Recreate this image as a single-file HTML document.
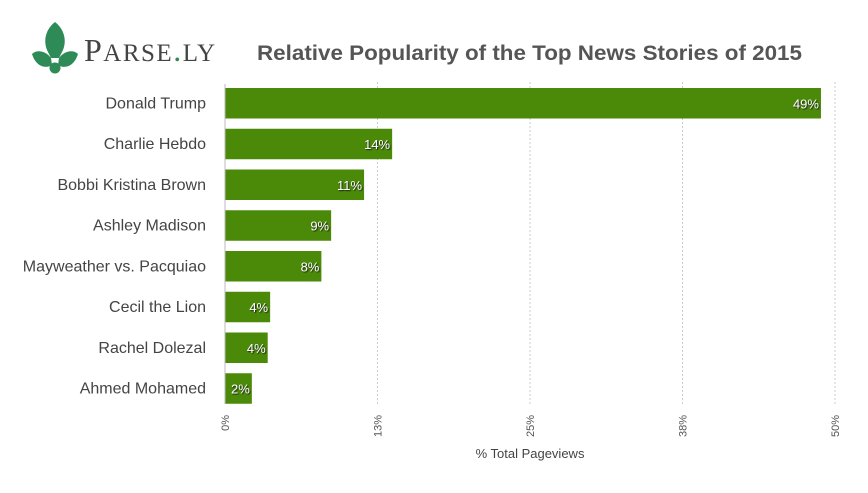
<!DOCTYPE html>
<html><head><meta charset="utf-8"><style>
body{margin:0;background:#fff;width:868px;height:493px;overflow:hidden;font-family:"Liberation Sans",sans-serif}
svg{display:block}
</style></head><body>
<svg id="c" width="868" height="493">
<g>
<path d="M55 22 C46 29 43 40 47 50 L51 58 L59 58 L63 50 C67 40 64 29 55 22Z" fill="#2e8b57"/>
<path d="M32 54 C37 49 46 51 51 58 L52 65 C46 69 36 67 32 54Z" fill="#2e8b57"/>
<path d="M78 54 C73 49 64 51 59 58 L58 65 C64 69 74 67 78 54Z" fill="#2e8b57"/>
<circle cx="55" cy="68" r="5.5" fill="#2e8b57"/>
<text x="84" y="61" font-family="Liberation Serif,serif" font-size="32" fill="#444" letter-spacing="1.5">P<tspan font-size="25">ARSE</tspan><tspan fill="#2e8b57">.</tspan><tspan font-size="25">LY</tspan></text>
</g>
<text x="257" y="60" font-size="21" font-weight="bold" fill="#555" textLength="545" lengthAdjust="spacingAndGlyphs">Relative Popularity of the Top News Stories of 2015</text>
<g id="grid"></g><g id="bars"></g><g id="axis"></g>
<text x="530" y="458" text-anchor="middle" font-size="13" fill="#444">% Total Pageviews</text>
</svg>
<script>
const categories=["Donald Trump","Charlie Hebdo","Bobbi Kristina Brown","Ashley Madison","Mayweather vs. Pacquiao","Cecil the Lion","Rachel Dolezal","Ahmed Mohamed"];
const values=[48.85,13.7,11.4,8.7,7.9,3.7,3.5,2.2];
const valueLabels=["49%","14%","11%","9%","8%","4%","4%","2%"];
const ticks=[0,12.5,25,37.5,50];
const tickLabels=["0%","13%","25%","38%","50%"];
const NS="http://www.w3.org/2000/svg";
const x0=225,x1=835,y0=88,band=40.75,bh=30.5;
const xs=v=>x0+(x1-x0)*v/50;
const ys=i=>y0+i*band;
function mk(t,a,p){const e=document.createElementNS(NS,t);for(const k in a)e.setAttribute(k,a[k]);p.appendChild(e);return e;}
const grid=document.getElementById('grid'),bars=document.getElementById('bars'),axis=document.getElementById('axis');
ticks.forEach((t,i)=>{
  if(i>0){const l=mk('line',{x1:xs(t),x2:xs(t),y1:82,y2:404,stroke:'#ccc','stroke-dasharray':'2,2'},grid);
  
  }
  const tx=mk('text',{transform:`translate(${xs(t)+4},415) rotate(-90)`,'text-anchor':'end','font-size':'11',fill:'#555'},axis);
  tx.textContent=tickLabels[i];
  
  
});
categories.forEach((c,i)=>{
  const r=mk('rect',{x:x0,y:ys(i),width:xs(values[i])-x0,height:bh,fill:'#4b8a08'},bars);
  
  
  const lb=mk('text',{x:206,y:ys(i)+bh/2+5,'text-anchor':'end','font-size':'16',fill:'#444'},bars);
  lb.textContent=c;
  
  
  const v=mk('text',{x:xs(values[i])-2,y:ys(i)+bh/2+5,'text-anchor':'end','font-size':'13',fill:'#fff',style:'text-shadow:1px 1px 1px #222'},bars);
  v.textContent=valueLabels[i];
  
  
});
const ax=mk('line',{x1:x0,x2:x0,y1:84,y2:404,stroke:'#bbb'},axis);


</script>
</body></html>
